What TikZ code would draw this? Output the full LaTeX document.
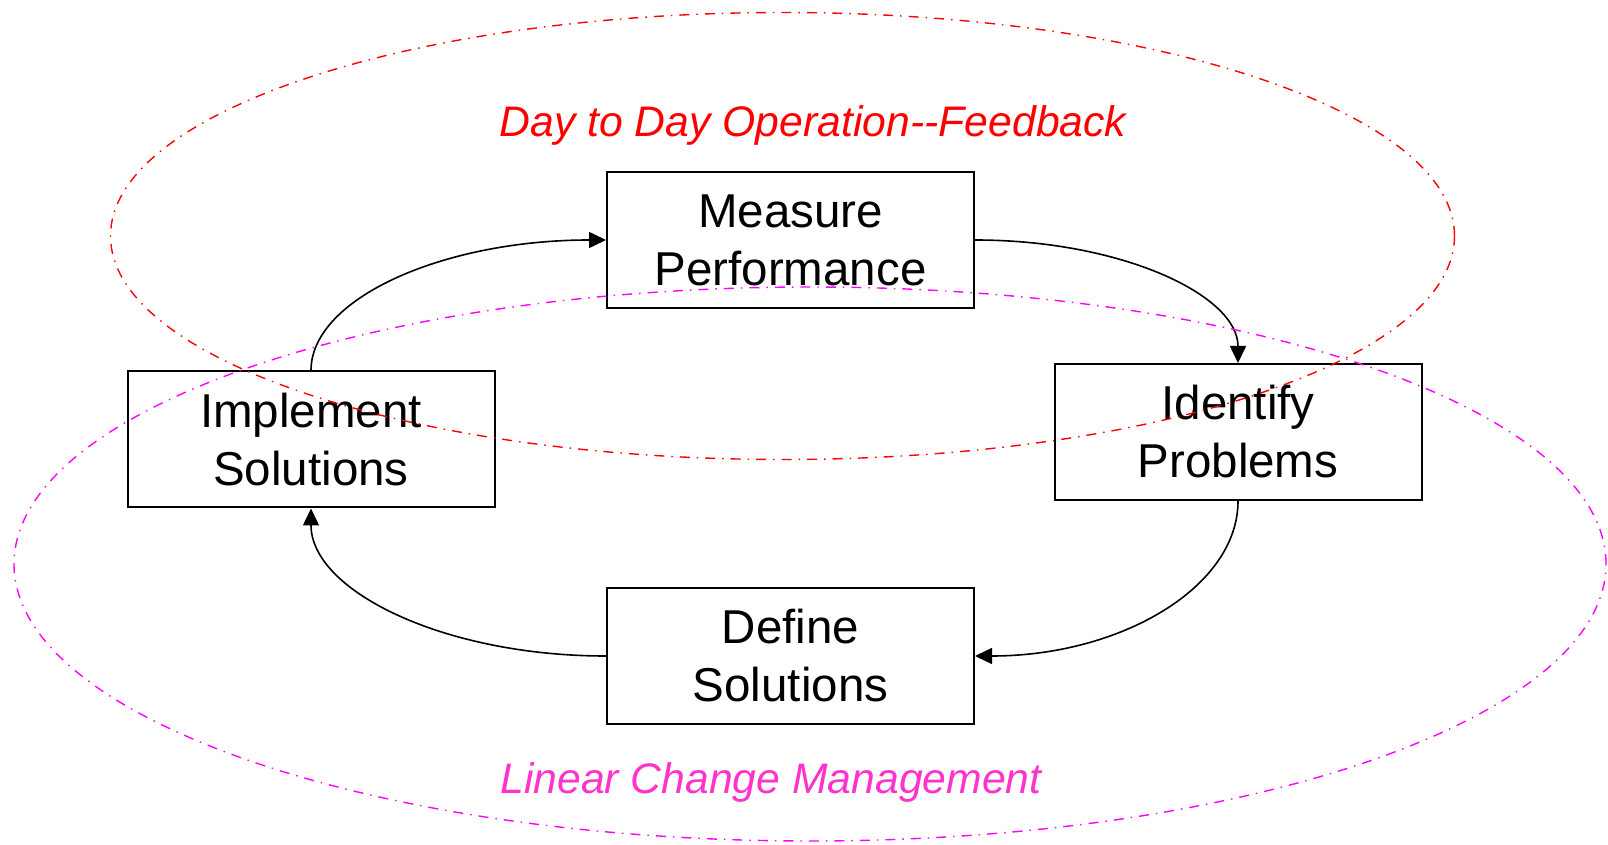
\documentclass[tikz,border=0pt]{standalone}
\usepackage{fontspec}
\setmainfont{Liberation Sans}
\usetikzlibrary{arrows.meta}

\definecolor{loopred}{RGB}{255,0,0}
\definecolor{linmag}{RGB}{255,0,255}
\definecolor{linmagtext}{RGB}{255,51,204}

\begin{document}
\begin{tikzpicture}[
    x=1pt, y=1pt,
    >={Triangle[length=17pt, width=16pt]},
    block/.style={
        draw=black, line width=2pt,
        rectangle, minimum width=367pt, minimum height=136pt,
        align=center, inner sep=0pt,
        font=\fontsize{47.5}{58}\selectfont
    },
    arrow/.style={->, line width=1.6pt, draw=black},
    ring/.style={line width=1.4pt, dash pattern=on 10pt off 7pt on 1.5pt off 7pt},
    ring label/.style={font=\fontsize{42.7}{50}\selectfont\itshape}
]
\useasboundingbox (0,0) rectangle (1608,844);

% Boxes
\node[block] (measure) at (790.5,604) {Measure\\Performance};
\node[block] (identify) at (1238,412) {Identify\\Problems};
\node[block] (define) at (790.5,188) {Define\\Solutions};
\node[block] (implement) at (311,404.5) {Implement\\Solutions};

% Cycle arrows
\draw[arrow] (implement.north) .. controls +(0,72) and +(-163,0) .. (measure.west);
\draw[arrow] (measure.east) .. controls +(146,0) and +(0,68) .. (identify.north);
\draw[arrow] (identify.south) .. controls +(0,-86) and +(146,0) .. (define.east);
\draw[arrow] (define.west) .. controls +(-163,0) and +(0,-82) .. (implement.south);

% The two loops
\draw[ring, draw=loopred] (782.5,608) ellipse [x radius=672pt, y radius=223.5pt];
\draw[ring, draw=linmag] (810,280) ellipse [x radius=796pt, y radius=277pt];

\node[ring label, text=loopred] (feedback) at (813,719) {Day to Day Operation{-}\kern0pt{-}Feedback};
\node[ring label, text=linmagtext] (linear) at (771,62) {Linear Change Management};

\end{tikzpicture}
\end{document}
